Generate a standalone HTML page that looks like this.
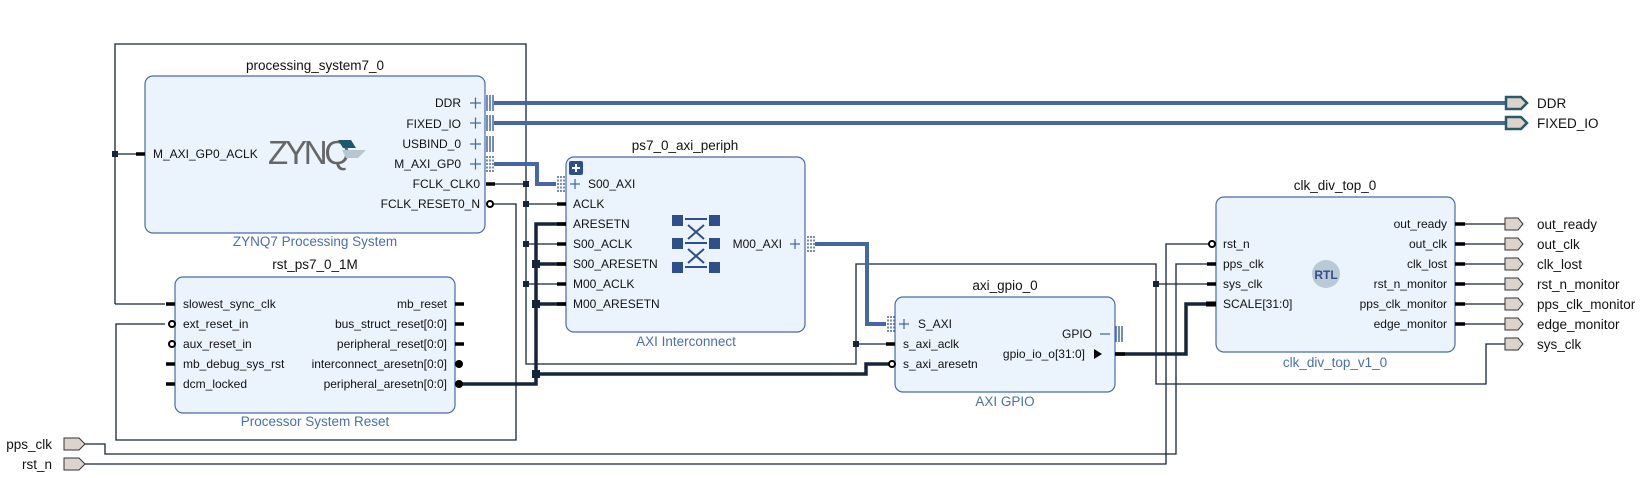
<!DOCTYPE html>
<html><head><meta charset="utf-8"><style>
html,body{margin:0;padding:0;background:#fff;}
svg{display:block;font-family:"Liberation Sans",sans-serif;}
.t{font-size:12px;fill:#111;}
.ti{font-size:13.5px;fill:#111;}
.st{font-size:13.5px;fill:#4a6eb0;}
.blk{fill:#ebf3fd;stroke:#4a6aa8;stroke-width:1.2;}
.w{stroke:#16263a;stroke-width:1.3;fill:none;}
.tw{stroke:#16263a;stroke-width:3.5;fill:none;}
.bus{stroke:#4567a5;stroke-width:4;fill:none;}
.pin{stroke:#000;stroke-width:3.5;}
.port{fill:#dcd3cd;stroke:#333;stroke-width:1;}
.pl{font-size:13.5px;fill:#111;}
</style></head><body>
<svg width="1651" height="478" viewBox="0 0 1651 478">
<!-- thin wires -->
<g class="w">
<polyline points="145,154 115,154"/>
<polyline points="115,304 115,44 526,44 526,364 856,364 856,264 1156,264 1156,384 1486,384 1486,344 1505,344"/>
<polyline points="486,184 526,184"/><polyline points="526,204 566,204"/><polyline points="526,244 566,244"/><polyline points="526,284 566,284"/>
<polyline points="115,304 165,304"/>
<polyline points="856,344 895,344"/>
<polyline points="1156,284 1216,284"/>
<polyline points="486,204 516,204 516,440 116,440 116,324 165,324"/>
<polyline points="85,444 105,444 105,454 1176,454 1176,264 1216,264"/>
<polyline points="85,464 1166,464 1166,244 1212,244"/>
<line x1="1465" y1="224" x2="1505" y2="224"/><line x1="1465" y1="244" x2="1505" y2="244"/><line x1="1465" y1="264" x2="1505" y2="264"/><line x1="1465" y1="284" x2="1505" y2="284"/><line x1="1465" y1="304" x2="1505" y2="304"/><line x1="1465" y1="324" x2="1505" y2="324"/>
</g>
<!-- junctions -->
<g fill="#16263a">
<rect x="112" y="151" width="6" height="6"/><rect x="523" y="181" width="6" height="6"/><rect x="523" y="201" width="6" height="6"/><rect x="523" y="241" width="6" height="6"/><rect x="523" y="281" width="6" height="6"/>
<rect x="853" y="341" width="6" height="6"/><rect x="1153" y="281" width="6" height="6"/>
<rect x="532" y="260" width="8" height="8"/><rect x="532" y="300" width="8" height="8"/><rect x="532" y="370" width="8" height="8"/>
</g>
<!-- thick wires -->
<g class="tw">
<polyline points="460,384 536,384 536,224 566,224"/><line x1="536" y1="264" x2="566" y2="264"/><line x1="536" y1="304" x2="566" y2="304"/>
<polyline points="536,374 866,374 866,364 890,364"/>
<polyline points="1115,354 1186,354 1186,304 1216,304"/>
</g>
<!-- buses -->
<g class="bus">
<line x1="494" y1="103" x2="1505" y2="103"/><line x1="494" y1="123" x2="1505" y2="123"/>
<polyline points="494,164 537,164 537,184 556,184"/>
<polyline points="815,244 867,244 867,324 886,324"/>
</g>
<!-- PS7 -->
<text class="ti" x="315" y="70" text-anchor="middle">processing_system7_0</text>
<rect class="blk" x="145" y="76" width="340" height="157" rx="8"/>
<text class="st" x="315" y="246" text-anchor="middle">ZYNQ7 Processing System</text>
<line class="pin" x1="136" y1="154" x2="145" y2="154"/>
<text class="t" x="153" y="158">M_AXI_GP0_ACLK</text>
<text x="268" y="164" font-size="33" fill="#666" font-family="Liberation Sans,sans-serif" textLength="82">ZYNQ</text>
<polygon points="338,140 351,140 356,148 343,148" fill="#1f5670"/><polygon points="342,150 366,150 358,158 346,158" fill="#b8c6d2"/>
<g class="t" text-anchor="end">
<text x="461" y="107">DDR</text><text x="461" y="128">FIXED_IO</text><text x="461" y="148">USBIND_0</text><text x="461" y="168">M_AXI_GP0</text><text x="480" y="188">FCLK_CLK0</text><text x="480" y="208">FCLK_RESET0_N</text>
</g>
<g stroke="#4567a5" stroke-width="1.2">
<path d="M470 103h11M475.5 97.5v11M470 123h11M475.5 117.5v11M470 144h11M475.5 138.5v11M470 164h11M475.5 158.5v11"/>
</g>
<g stroke="#4567a5" stroke-width="1.5">
<path d="M487 95v16M490 95v16M493 95v16M487 115v16M490 115v16M493 115v16M487 136v16M490 136v16M493 136v16"/>
</g>
<g stroke="#4567a5" stroke-width="1.5" stroke-dasharray="2,1.5"><path d="M487 156v16M490 156v16M493 156v16"/></g>
<line class="pin" x1="486" y1="184" x2="495" y2="184"/>
<circle cx="490" cy="204" r="3" fill="#fff" stroke="#000" stroke-width="2"/>
<!-- interconnect -->
<text class="ti" x="685" y="150" text-anchor="middle">ps7_0_axi_periph</text>
<rect class="blk" x="566" y="157" width="239" height="175" rx="8"/>
<text class="st" x="686" y="346" text-anchor="middle">AXI Interconnect</text>
<rect x="569" y="161" width="14" height="14" rx="2" fill="#2f4f8a"/><path d="M572 168h8M576 164v8" stroke="#fff" stroke-width="2"/>
<g stroke="#4567a5" stroke-width="1.5" stroke-dasharray="2,1.5"><path d="M558 176v16M561 176v16M564 176v16M808 236v16M811 236v16M814 236v16M888 316v16M891 316v16M894 316v16"/></g>
<path d="M570 184h10M575 179v10M790 244h10M795 239v10" stroke="#4567a5" stroke-width="1.2"/>
<g class="t"><text x="588" y="188">S00_AXI</text><text x="573" y="208">ACLK</text><text x="573" y="228">ARESETN</text><text x="573" y="248">S00_ACLK</text><text x="573" y="268">S00_ARESETN</text><text x="573" y="288">M00_ACLK</text><text x="573" y="308">M00_ARESETN</text>
<text x="782" y="248" text-anchor="end">M00_AXI</text></g>
<g stroke="#000" stroke-width="3.5"><path d="M557 204h9M557 224h9M557 244h9M557 264h9M557 284h9M557 304h9"/></g>
<g fill="#2f4f8a"><rect x="672" y="215" width="11" height="11"/><rect x="709" y="215" width="11" height="11"/><rect x="672" y="238" width="11" height="11"/><rect x="709" y="238" width="11" height="11"/><rect x="672" y="262" width="11" height="11"/><rect x="709" y="262" width="11" height="11"/></g>
<g stroke="#2f4f8a" stroke-width="2"><path d="M685 219h22M685 243h22M685 267h22M688 225l16 14M704 225l-16 14M688 249l16 14M704 249l-16 14"/></g>
<!-- rst -->
<text class="ti" x="315" y="269" text-anchor="middle">rst_ps7_0_1M</text>
<rect class="blk" x="175" y="277" width="280" height="136" rx="8"/>
<text class="st" x="315" y="426" text-anchor="middle">Processor System Reset</text>
<g class="t"><text x="183" y="308">slowest_sync_clk</text><text x="183" y="328">ext_reset_in</text><text x="183" y="348">aux_reset_in</text><text x="183" y="368">mb_debug_sys_rst</text><text x="183" y="388">dcm_locked</text></g>
<g class="t" text-anchor="end"><text x="447" y="308">mb_reset</text><text x="447" y="328">bus_struct_reset[0:0]</text><text x="447" y="348">peripheral_reset[0:0]</text><text x="447" y="368">interconnect_aresetn[0:0]</text><text x="447" y="388">peripheral_aresetn[0:0]</text></g>
<g stroke="#000" stroke-width="3.5"><path d="M166 304h9M170 324h5M170 344h5M166 364h9M166 384h9M455 304h9M455 324h9M455 344h9"/></g>
<circle cx="172" cy="324" r="3" fill="#fff" stroke="#000" stroke-width="2"/><circle cx="172" cy="344" r="3" fill="#fff" stroke="#000" stroke-width="2"/>
<circle cx="459" cy="364" r="4" fill="#000"/><circle cx="459" cy="384" r="4" fill="#000"/>
<!-- gpio -->
<text class="ti" x="1005" y="290" text-anchor="middle">axi_gpio_0</text>
<rect class="blk" x="895" y="297" width="220" height="95" rx="8"/>
<text class="st" x="1005" y="406" text-anchor="middle">AXI GPIO</text>
<path d="M899 324h10M904 319v10M1100 334h10" stroke="#4567a5" stroke-width="1.2"/>
<g stroke="#4567a5" stroke-width="1.5"><path d="M1116 326v16M1119 326v16M1122 326v16"/></g>
<g class="t"><text x="918" y="328">S_AXI</text><text x="903" y="348">s_axi_aclk</text><text x="903" y="368">s_axi_aresetn</text>
<text x="1092" y="338" text-anchor="end">GPIO</text><text x="1085" y="358" text-anchor="end">gpio_io_o[31:0]</text></g>
<polygon points="1094,349 1102,354 1094,359"/>
<line class="pin" x1="886" y1="344" x2="895" y2="344"/><circle cx="892" cy="364" r="3" fill="#fff" stroke="#000" stroke-width="2"/>
<line class="pin" x1="1115" y1="354" x2="1125" y2="354"/>
<!-- clk_div -->
<text class="ti" x="1335" y="190" text-anchor="middle">clk_div_top_0</text>
<rect class="blk" x="1216" y="197" width="239" height="155" rx="8"/>
<text class="st" x="1335" y="367" text-anchor="middle">clk_div_top_v1_0</text>
<circle cx="1326" cy="274" r="14" fill="#b9cad6"/><text x="1326" y="279" text-anchor="middle" font-size="12" font-weight="bold" fill="#2f4f8a">RTL</text>
<g class="t"><text x="1223" y="248">rst_n</text><text x="1223" y="268">pps_clk</text><text x="1223" y="288">sys_clk</text><text x="1223" y="308">SCALE[31:0]</text></g>
<g class="t" text-anchor="end"><text x="1447" y="228">out_ready</text><text x="1447" y="248">out_clk</text><text x="1447" y="268">clk_lost</text><text x="1447" y="288">rst_n_monitor</text><text x="1447" y="308">pps_clk_monitor</text><text x="1447" y="328">edge_monitor</text></g>
<g stroke="#000" stroke-width="3.5"><path d="M1207 264h9M1207 284h9M1455 224h10M1455 244h10M1455 264h10M1455 284h10M1455 304h10M1455 324h10"/></g>
<path d="M1206 304h10" stroke="#000" stroke-width="5"/>
<circle cx="1212" cy="244" r="3" fill="#fff" stroke="#000" stroke-width="2"/>
<!-- output ports -->
<g class="port">
<polygon points="1505,218 1518,218 1523,224 1518,230 1505,230"/><polygon points="1505,238 1518,238 1523,244 1518,250 1505,250"/><polygon points="1505,258 1518,258 1523,264 1518,270 1505,270"/><polygon points="1505,278 1518,278 1523,284 1518,290 1505,290"/><polygon points="1505,298 1518,298 1523,304 1518,310 1505,310"/><polygon points="1505,318 1518,318 1523,324 1518,330 1505,330"/><polygon points="1505,338 1518,338 1523,344 1518,350 1505,350"/>
<polygon points="64,438 79,438 85,444 79,450 64,450"/><polygon points="64,458 79,458 85,464 79,470 64,470"/>
</g>
<g fill="#dcd3cd" stroke="#2a5a6a" stroke-width="2.5">
<polygon points="1506,97 1521,97 1527,103 1521,109 1506,109"/><polygon points="1506,117 1521,117 1527,123 1521,129 1506,129"/>
</g>
<g class="pl"><text x="1537" y="108">DDR</text><text x="1537" y="128">FIXED_IO</text>
<text x="1537" y="229">out_ready</text><text x="1537" y="249">out_clk</text><text x="1537" y="269">clk_lost</text><text x="1537" y="289">rst_n_monitor</text><text x="1537" y="309">pps_clk_monitor</text><text x="1537" y="329">edge_monitor</text><text x="1537" y="349">sys_clk</text>
<text x="52" y="449" text-anchor="end">pps_clk</text><text x="52" y="469" text-anchor="end">rst_n</text></g>
</svg>
</body></html>
